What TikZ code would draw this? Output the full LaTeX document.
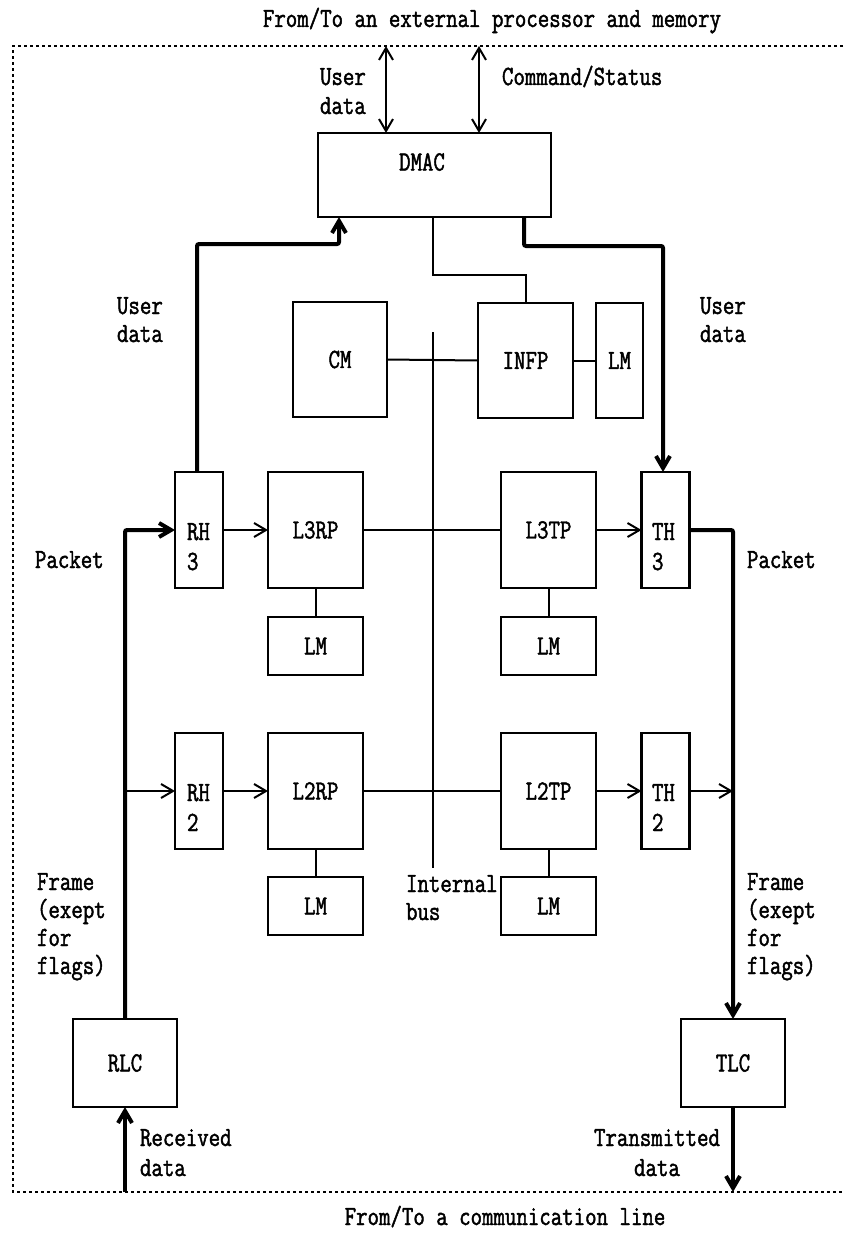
\documentclass[tikz,border=0pt]{standalone}
\usepackage{fontspec}
\newfontfamily\dotfont[FakeStretch=0.8, FakeBold=1.6]{Latin Modern Mono}
\usetikzlibrary{arrows.meta}
\begin{document}
\begin{tikzpicture}[x=0.5pt,y=-0.5pt,
  every node/.style={font=\dotfont\fontsize{13.9pt}{14pt}\selectfont, inner sep=0pt, outer sep=0pt},
  box/.style={draw, line width=1.3pt},
  thinline/.style={line width=1pt},
  thickline/.style={line width=2pt},
  tip/.style={-{Straight Barb[length=6pt,width=7pt]}},
  bothtip/.style={{Straight Barb[length=6pt,width=7pt]}-{Straight Barb[length=6pt,width=7pt]}},
  border/.style={line width=0.9pt, dash pattern=on 1.5pt off 1.5pt},
  lbl/.style={anchor=base west},
]
\useasboundingbox (0,0) rectangle (843,1236);

% dotted frame
\coordinate (btl) at (13,46);
\coordinate (btr) at (843,46);
\coordinate (bbl) at (13,1192);
\coordinate (bbr) at (843,1192);
\draw[border] (btr) -- (btl) -- (bbl) -- (bbr);

% outer labels
\node[anchor=base] (toplbl) at (492,27) {From/To an external processor and memory};
\node[anchor=base] (botlbl) at (505,1225) {From/To a communication line};

% boxes
\node[box, minimum width=116.5pt, minimum height=42pt] (dmac) at (434.5,175) {};
\node (dmact) at (422,162) {DMAC};
\node[box, minimum width=47pt, minimum height=57.5pt] (cm) at (340,359.5) {CM};
\node[box, minimum width=47.5pt, minimum height=57.5pt] (infp) at (525.5,360.5) {INFP};
\node[box, minimum width=23.5pt, minimum height=57.5pt] (lmi) at (619.5,360.5) {LM};

\node[box, minimum width=24pt, minimum height=58pt] (rh3) at (199,530) {};
\node[box, minimum width=47.5pt, minimum height=58pt] (l3rp) at (315.5,530) {L3RP};
\node[box, minimum width=47.5pt, minimum height=58pt] (l3tp) at (548.5,530) {L3TP};
\node[box, minimum width=24pt, minimum height=58pt] (th3) at (665.5,530) {};
\node[box, minimum width=47.5pt, minimum height=29pt] (lm3r) at (315.5,646) {LM};
\node[box, minimum width=47.5pt, minimum height=29pt] (lm3t) at (548.5,646) {LM};

\node[box, minimum width=24pt, minimum height=58pt] (rh2) at (199,791) {};
\node[box, minimum width=47.5pt, minimum height=58pt] (l2rp) at (315.5,791) {L2RP};
\node[box, minimum width=47.5pt, minimum height=58pt] (l2tp) at (548.5,791) {L2TP};
\node[box, minimum width=24pt, minimum height=58pt] (th2) at (665.5,791) {};
\node[box, minimum width=47.5pt, minimum height=29pt] (lm2r) at (315.5,906) {LM};
\node[box, minimum width=47.5pt, minimum height=29pt] (lm2t) at (548.5,906) {LM};

\node[box, minimum width=52pt, minimum height=44pt] (rlc) at (125,1063) {RLC};
\node[box, minimum width=52pt, minimum height=44pt] (tlc) at (733,1063) {TLC};

% box inner labels (two-line)
\node[lbl] (rh3a) at (187,540) {RH};
\node[lbl] (rh3b) at (187,570) {3};
\node[lbl] (th3a) at (652,540) {TH};
\node[lbl] (th3b) at (652,570) {3};
\node[lbl] (rh2a) at (187,801) {RH};
\node[lbl] (rh2b) at (187,831) {2};
\node[lbl] (th2a) at (652,801) {TH};
\node[lbl] (th2b) at (652,831) {2};

% connectors to external processor
\coordinate (ud) at (386,46);
\coordinate (cs) at (479,46);
\draw[thinline,bothtip] (ud) -- (dmac.north -| ud);
\draw[thinline,bothtip] (cs) -- (dmac.north -| cs);
\node[lbl] (udt1) at (320,85) {User};
\node[lbl] (udt2) at (320,114) {data};
\node[lbl] (cst) at (502,85) {Command/Status};

% DMAC to INFP
\draw[thinline] (433,217) -- (433,275) -| (infp.north);
% internal bus
\coordinate (bustop) at (433,332);
\coordinate (busbot) at (433,868);
\draw[thinline] (bustop) -- (busbot);
\node[lbl] (ib1) at (406,892) {Internal};
\node[lbl] (ib2) at (406,920) {bus};
\draw[thinline] (cm.east) -- (infp.west);
\draw[thinline] (infp.east) -- (lmi.west);

% user data paths
\draw[thickline,tip,rounded corners=1pt] (197,472) -- (197,244) -- (339,244) -- (339,217);
\draw[thickline,tip,rounded corners=1pt] (524,217) -- (524,246) -- (663,246) -- (663,472);
\node[lbl] (ul1) at (117,314) {User};
\node[lbl] (ul2) at (117,342) {data};
\node[lbl] (ur1) at (700,314) {User};
\node[lbl] (ur2) at (700,342) {data};

% row 3
\draw[thinline,tip] (rh3.east) -- (l3rp.west);
\draw[thinline] (l3rp.east) -- (l3tp.west);
\draw[thinline,tip] (l3tp.east) -- (th3.west);
\draw[thinline] (l3rp.south) -- (lm3r.north);
\draw[thinline] (l3tp.south) -- (lm3t.north);
% row 2
\draw[thinline,tip] (rh2.east) -- (l2rp.west);
\draw[thinline] (l2rp.east) -- (l2tp.west);
\draw[thinline,tip] (l2tp.east) -- (th2.west);
\draw[thinline] (l2rp.south) -- (lm2r.north);
\draw[thinline] (l2tp.south) -- (lm2t.north);

% receive path
\draw[thickline,tip,rounded corners=1pt] (rlc.north) -- (125,530) -- (rh3.west);
\coordinate (rj) at (125,791);
\draw[thinline,tip] (rj) -- (rh2.west);
% transmit path
\draw[thickline,tip,rounded corners=1pt] (th3.east) -- (733,530) -- (tlc.north);
\coordinate (tj) at (733,791);
\draw[thinline,tip] (th2.east) -- (tj);

\node[lbl] (pl) at (35,568) {Packet};
\node[lbl] (pr) at (747,568) {Packet};
\node[lbl] (fl1) at (37,890) {Frame};
\node[lbl] (fl2) at (37,918) {(exept};
\node[lbl] (fl3) at (37,946) {for};
\node[lbl] (fl4) at (37,974) {flags)};
\node[lbl] (fr1) at (747,890) {Frame};
\node[lbl] (fr2) at (747,918) {(exept};
\node[lbl] (fr3) at (747,946) {for};
\node[lbl] (fr4) at (747,974) {flags)};

% line interface
\coordinate (rin) at (125,1192);
\coordinate (tout) at (733,1192);
\draw[thickline,tip] (rin) -- (rlc.south);
\draw[thickline,tip] (tlc.south) -- (tout);
\node[lbl] (rd1) at (140,1146) {Received};
\node[lbl] (rd2) at (140,1176) {data};
\node[anchor=base] (td1) at (657,1146) {Transmitted};
\node[anchor=base] (td2) at (657,1176) {data};
\end{tikzpicture}
\end{document}
